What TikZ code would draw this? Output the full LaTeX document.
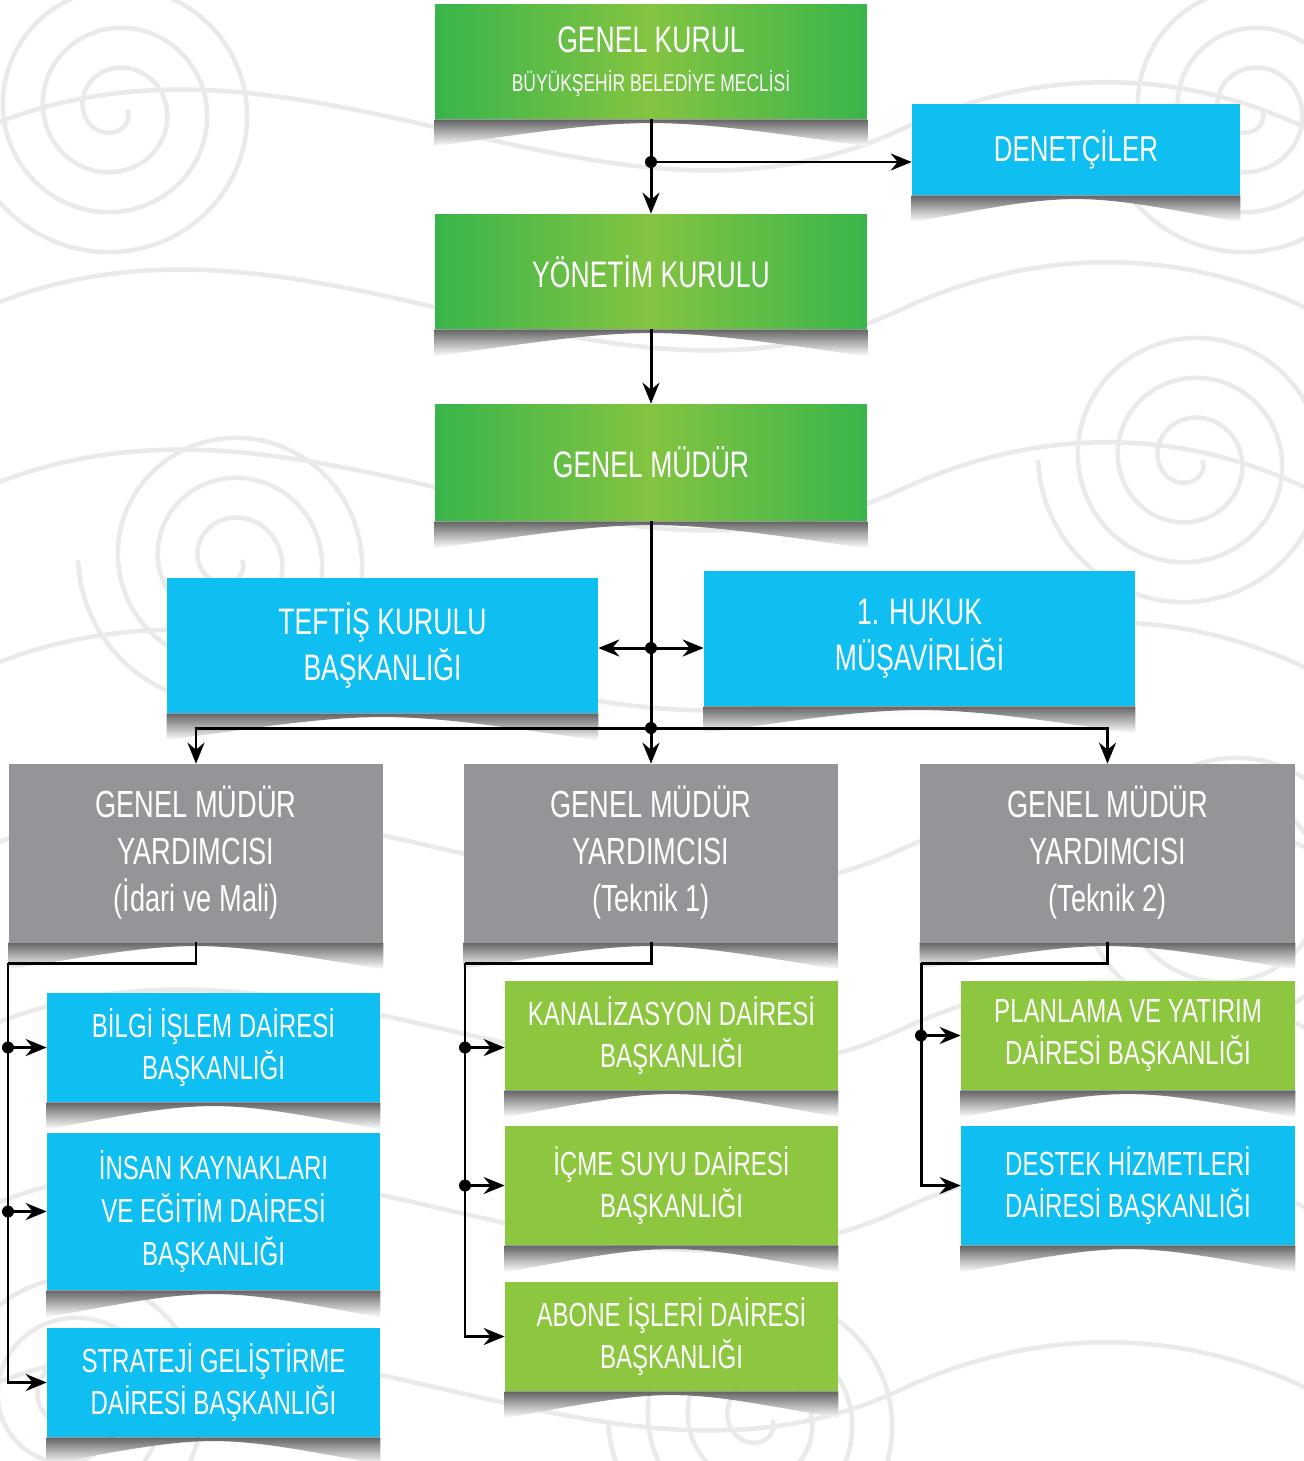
\documentclass[tikz,border=0pt]{standalone}
\usepackage{fontspec}
\setmainfont{Liberation Sans}[FakeStretch=0.72]
\usetikzlibrary{arrows.meta, positioning, calc}

\definecolor{gdark}{HTML}{39B54A}
\definecolor{glight}{HTML}{84C441}
\definecolor{gflat}{HTML}{8DC63F}
\definecolor{cyanbox}{HTML}{10BFF1}
\definecolor{graybox}{HTML}{939598}
\definecolor{swirl}{HTML}{EAEAEA}

% curved shadow under a box
\newcommand{\boxshadow}[1]{%
  \path[top color=black!70, bottom color=white]
    (#1.south west) -- (#1.south east) -- ++(0,27)
    .. controls ($(#1.south)+(0,-4)$) .. ($(#1.south west)+(0,27)$) -- cycle;}

\begin{document}
\begin{tikzpicture}[x=0.02cm, y=-0.02cm]

\tikzset{box/.style = {inner sep=0pt, align=center, text=white, font=\fontsize{21}{26.5}\selectfont}}
\tikzset{greenbox/.style = {box, left color=gdark, right color=gdark, middle color=glight, minimum width=8.64cm, minimum height=2.3cm}}
\tikzset{bluebox/.style = {box, fill=cyanbox}}
\tikzset{graybox/.style = {box, fill=graybox, minimum width=7.48cm, minimum height=3.56cm, font=\fontsize{21.5}{26.7}\selectfont}}
\tikzset{deptbox/.style = {box, minimum width=6.66cm, minimum height=2.18cm, font=\fontsize{19}{24.4}\selectfont}}
\tikzset{link/.style = {line width=1.7pt, -{Stealth[length=4.2mm,width=3.4mm,inset=1.4mm]}}}
\tikzset{wire/.style = {line width=1.7pt}}

\useasboundingbox (0,0) rectangle (1303,1461);

% background swirls
\begin{scope}[swirl, line width=2.6pt]
\foreach \y in {130,310,490,670,850,1030,1210,1390}
  \draw (-20,\y) .. controls (300,\y-140) and (600,\y+140) .. (900,\y)
                 .. controls (1050,\y-70) and (1200,\y-60) .. (1330,\y+10);
\foreach \cx/\cy in {115/110, 1190/460, 230/560, 1230/880, 70/1400, 760/1420, 1250/110}
  \draw plot[domain=0:1260, samples=160, smooth]
    ({\cx+(12+\x/9)*cos(\x)}, {\cy+(12+\x/9)*sin(\x)});
\end{scope}

% vertices
\node[greenbox] (kurul) at (651,61.5) {GENEL KURUL\\[-4pt]{\fontsize{13.8}{16}\selectfont BÜYÜKŞEHİR BELEDİYE MECLİSİ}};
\node[bluebox, minimum width=6.56cm, minimum height=1.82cm, font=\fontsize{20.5}{26}\selectfont] (denet) at (1076,149.5) {DENETÇİLER};
\node[greenbox] (yonetim) at (651,271.5) {YÖNETİM KURULU};
\node[greenbox, minimum height=2.34cm] (gm) at (651,462.5) {GENEL MÜDÜR};
\node[bluebox, minimum width=8.62cm, minimum height=2.7cm] (teftis) at (382.5,645.5) {TEFTİŞ KURULU\\BAŞKANLIĞI};
\node[bluebox, minimum width=8.62cm, minimum height=2.7cm] (hukuk) at (919.5,638.5) {1. HUKUK\\MÜŞAVİRLİĞİ};

\node[graybox] (gmy1) at (196,853) {GENEL MÜDÜR\\YARDIMCISI\\(İdari ve Mali)};
\node[graybox] (gmy2) at (651,853) {GENEL MÜDÜR\\YARDIMCISI\\(Teknik 1)};
\node[graybox, minimum width=7.5cm] (gmy3) at (1107.5,853) {GENEL MÜDÜR\\YARDIMCISI\\(Teknik 2)};

\node[deptbox, fill=cyanbox] (bilgi) at (213.5,1047.5) {BİLGİ İŞLEM DAİRESİ\\BAŞKANLIĞI};
\node[deptbox, fill=cyanbox, minimum height=3.14cm] (insan) at (213.5,1211.5) {İNSAN KAYNAKLARI\\VE EĞİTİM DAİRESİ\\BAŞKANLIĞI};
\node[deptbox, fill=cyanbox] (strateji) at (213.5,1382.5) {STRATEJİ GELİŞTİRME\\DAİRESİ BAŞKANLIĞI};

\node[deptbox, fill=gflat] (kanal) at (671.5,1035.5) {KANALİZASYON DAİRESİ\\BAŞKANLIĞI};
\node[deptbox, fill=gflat, minimum height=2.38cm] (icme) at (671.5,1185.5) {İÇME SUYU DAİRESİ\\BAŞKANLIĞI};
\node[deptbox, fill=gflat] (abone) at (671.5,1336.5) {ABONE İŞLERİ DAİRESİ\\BAŞKANLIĞI};

\node[deptbox, fill=gflat, minimum width=6.68cm] (plan) at (1128,1035.5) {PLANLAMA VE YATIRIM\\DAİRESİ BAŞKANLIĞI};
\node[deptbox, fill=cyanbox, minimum width=6.68cm, minimum height=2.38cm] (destek) at (1128,1185.5) {DESTEK HİZMETLERİ\\DAİRESİ BAŞKANLIĞI};

% shadows
\foreach \b in {kurul, denet, yonetim, gm, teftis, hukuk, gmy1, gmy2, gmy3,
                bilgi, insan, strateji, kanal, icme, abone, plan, destek}
  {\boxshadow{\b}}

% junctions
\coordinate (j0) at (651,162);
\coordinate (j1) at (651,648);
\coordinate (j2) at (651,728);
\coordinate (l0) at (8,963);
\coordinate (m0) at (465,963);
\coordinate (r0) at (921,963);

%edges
\draw[link] (kurul) -- (yonetim);
\draw[link] (j0) -- (denet.west |- j0);
\draw[link] (yonetim) -- (gm);
\draw[link] (gm) -- (gmy2);
\draw[link] (j1) -- (teftis.east |- j1);
\draw[link] (j1) -- (hukuk.west |- j1);
\draw[link] (j2) -| (gmy1);
\draw[link] (j2) -| (gmy3);

\draw[wire] (gmy1.south) |- (l0);
\draw[link] (l0) |- (strateji.west);
\draw[link] (l0 |- bilgi.west) -- (bilgi.west);
\draw[link] (l0 |- insan.west) -- (insan.west);

\draw[wire] (gmy2.south) |- (m0);
\draw[link] (m0) |- (abone.west);
\draw[link] (m0 |- bilgi.west) -- (kanal.west |- bilgi.west);
\draw[link] (m0 |- icme.west) -- (icme.west);

\draw[wire] (gmy3.south) |- (r0);
\draw[link] (r0) |- (destek.west);
\draw[link] (r0 |- plan.west) -- (plan.west);

% dots
\foreach \p in {j0, j1, j2}
  \fill (\p) circle (6);
\fill (l0 |- bilgi.west) circle (6) (l0 |- insan.west) circle (6);
\fill (m0 |- bilgi.west) circle (6) (m0 |- icme.west) circle (6);
\fill (r0 |- plan.west) circle (6);

\end{tikzpicture}
\end{document}
